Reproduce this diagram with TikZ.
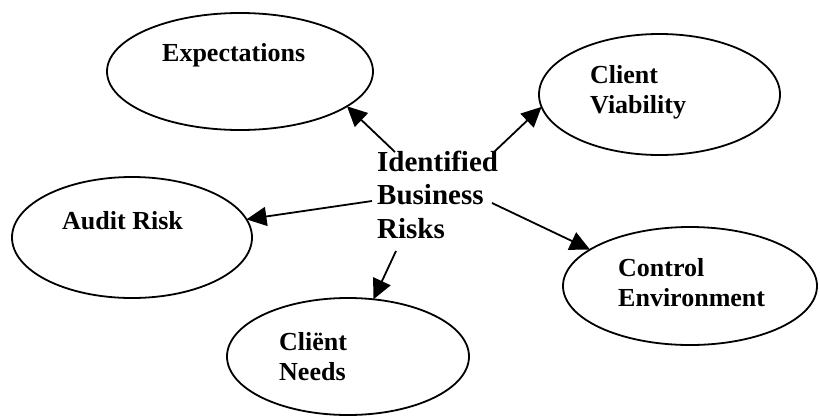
\documentclass[tikz,border=0pt]{standalone}
\usepackage{fontspec}
\setmainfont{Liberation Serif}
\usetikzlibrary{arrows.meta,shapes.geometric}
\begin{document}
\begin{tikzpicture}[x=1pt,y=-1pt,
  riskellipse/.style={ellipse,draw,line width=1.8pt,inner sep=0pt,outer sep=0pt},
  risklabel/.style={anchor=base west,inner sep=0pt,align=left,
    font=\fontsize{26}{30.5}\selectfont\bfseries},
  hublabel/.style={anchor=base west,inner sep=0pt,align=left,
    font=\fontsize{29}{33.5}\selectfont\bfseries},
  link/.style={line width=1.8pt,-{Triangle[length=20pt,width=19pt]}}]
\useasboundingbox (0,0) rectangle (820,416);

% outer ellipses
\node[riskellipse,minimum width=266pt,minimum height=117pt] (exp) at (240,71.5) {};
\node[riskellipse,minimum width=241pt,minimum height=121pt] (via) at (659.5,94.5) {};
\node[riskellipse,minimum width=240pt,minimum height=121pt] (aud) at (132,237.5) {};
\node[riskellipse,minimum width=254pt,minimum height=118pt] (ctl) at (690,286) {};
\node[riskellipse,minimum width=242pt,minimum height=117pt] (nds) at (348,356.5) {};

% labels (base anchor sits on the last line)
\node[risklabel] (expt) at (162,61.7) {Expectations};
\node[risklabel] (viat) at (590,113.5) {Client\\Viability};
\node[risklabel] (audt) at (62,229) {Audit Risk};
\node[risklabel] (ctlt) at (618,306.5) {Control\\Environment};
\node[risklabel] (ndst) at (279,380.5) {Cliënt\\Needs};

% centre
\node[hublabel] (hub) at (377,238) {Identified\\Business\\Risks};

% arrow starts
\coordinate (s1) at (395,152);
\coordinate (s2) at (494,152);
\coordinate (s3) at (372,201);
\coordinate (s4) at (492,203);
\coordinate (s5) at (396,251);

\draw[link] (s1) -- (exp.-18.2);
\draw[link] (s2) -- (via.186.4);
\draw[link] (s3) -- (aud.9.2);
\draw[link] (s4) -- (ctl.160.6);
\draw[link] (s5) -- (nds.66.9);
\end{tikzpicture}
\end{document}
